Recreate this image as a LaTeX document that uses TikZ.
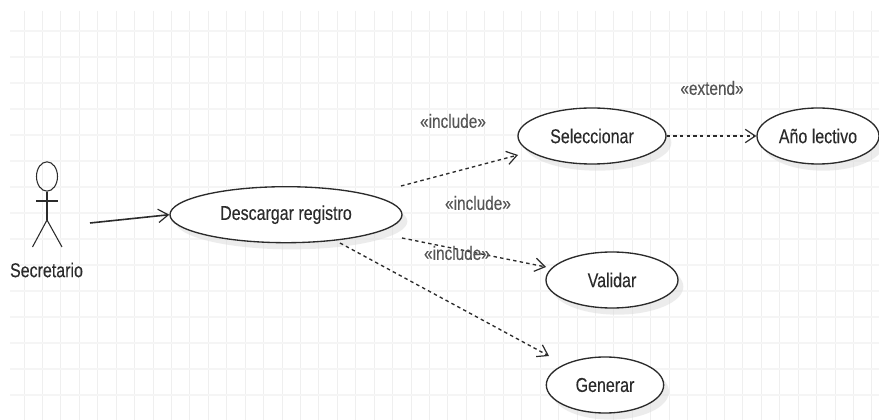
\documentclass[tikz,border=0pt]{standalone}
\usepackage{fontspec}
\setmainfont[FakeStretch=0.8,FakeBold=0.15]{Liberation Sans}
\usetikzlibrary{arrows.meta,shapes.geometric,shadows}
\definecolor{gridline}{HTML}{EFEFEF}
\definecolor{gridband}{HTML}{F5F5F5}
\definecolor{umlink}{HTML}{2B2B2B}
\tikzset{
>={Straight Barb[width=10pt,length=7.5pt,line width=0.9pt]},
	usecase/.style={
		ellipse,
		fill=white,
		draw=umlink, line width=1pt,
		text=umlink,
		inner sep=0pt,
		minimum height=42pt,
		font=\fontsize{15}{17}\selectfont,
		drop shadow={shadow xshift=4pt,shadow yshift=-5pt,fill=black!14,opacity=0.5}},
	stereo/.style={
		text=umlink!80,
		inner sep=0pt,
		font=\fontsize{14.4}{17}\selectfont},
	limb/.style={
		draw=umlink, line width=0.8pt},
	assoc/.style={
		->, draw=umlink, line width=1.2pt},
	depend/.style={
		->, draw=umlink, line width=1pt,
		dash pattern=on 2.6pt off 2.4pt}
}
\begin{document}
\begin{tikzpicture}
[x=0.75pt, y=-0.75pt]
\useasboundingbox[fill=white] (0,0) rectangle (879,420);
\foreach \gx in {0,...,46}
	\draw[gridline, line width=0.6pt] ({24+18.43*\gx},11) -- ({24+18.43*\gx},420);
\foreach \gy in {0,...,14}
	\draw[gridband, line width=1.2pt] (10,{31+26*\gy}) -- (879,{31+26*\gy});

\node[usecase, minimum width=174pt] (descargar) at (286,214.7) {Descargar registro};
\node[usecase, minimum width=111pt] (seleccionar) at (592,136) {Seleccionar};
\node[usecase, minimum width=91.5pt, right of=seleccionar, node distance=169.5pt] (anio) {Año lectivo};
\node[usecase, minimum width=99pt] (validar) at (612,280) {Validar};
\node[usecase, minimum width=88pt, below of=validar, node distance=78.75pt, xshift=-5.25pt] (generar) {Generar};

\node[ellipse, limb, fill=none, inner sep=0pt, minimum width=15.75pt, minimum height=22pt] (head) at (47,176.5) {};
\node[text=umlink, inner sep=0pt, font=\fontsize{15}{17}\selectfont] (secretario) at (46.5,270) {Secretario};
\coordinate (neck) at (47,220);
\coordinate (armL) at (36,201);
\coordinate (armR) at (58,201);
\coordinate (legL) at (32.5,247);
\coordinate (legR) at (62,247);
\draw[limb] (head.south) -- (neck);
\draw[limb] (armL) -- (armR);
\draw[limb] (legL) -- (neck) -- (legR);

\coordinate (actorhand) at (90,223);
\coordinate (fromsel) at (401,186);
\coordinate (tosel) at (518,155);
\coordinate (fromval) at (402,238);
\coordinate (toval) at (546,267);
\coordinate (fromgen) at (340,243);
\coordinate (togen) at (549,356);

\draw[assoc] (actorhand) -- (descargar.west);
\draw[depend] (fromsel) -- (tosel);
\draw[depend] (fromval) -- (toval);
\draw[depend] (fromgen) -- (togen);
\draw[depend] (seleccionar.east) -- (anio.west);

\node[stereo] (incsel) at (453,121) {«include»};
\node[stereo] (incval) at (478,203) {«include»};
\node[stereo] (incgen) at (457,253) {«include»};
\node[stereo] (extanio) at (712,88) {«extend»};
\end{tikzpicture}
\end{document}
